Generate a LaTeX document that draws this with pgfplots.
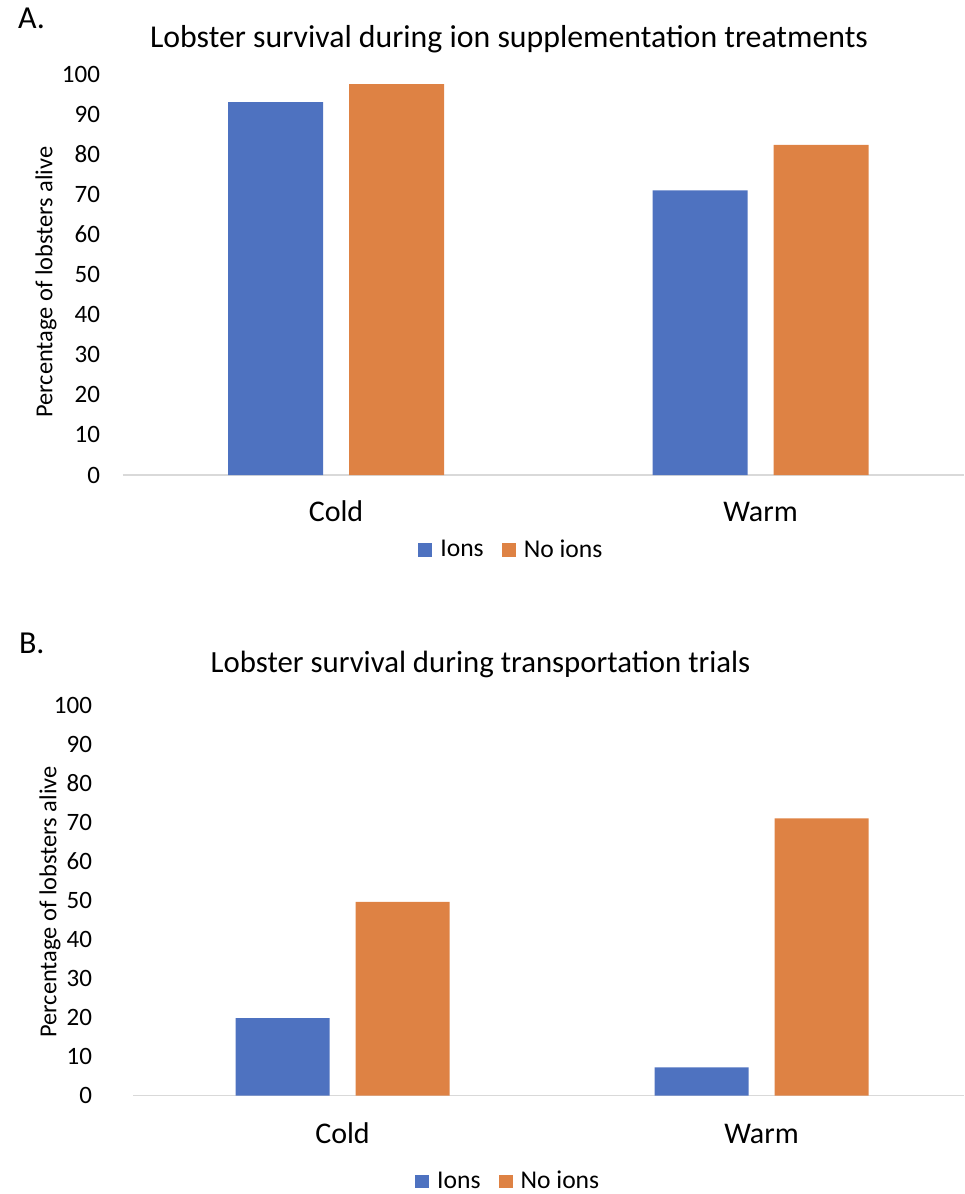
\documentclass[border=0pt]{standalone}
\usepackage{fontspec}
\setmainfont{Carlito}
\usepackage{pgfplots}
\pgfplotsset{compat=1.18}
\definecolor{ionblue}{RGB}{78,114,192}
\definecolor{ionorange}{RGB}{222,130,68}
\definecolor{axgray}{RGB}{217,217,217}
\newcommand\fs[1]{\fontsize{#1}{#1}\selectfont}
\pgfplotsset{
  lobster/.style={
    scale only axis,
    ymin=0, ymax=100,
    ytick={0,10,...,100},
    xtick={0,1},
    xticklabels={Cold,Warm},
    axis x line*=bottom,
    axis y line*=left,
    x axis line style={draw=axgray, line width=0.6pt, -},
    y axis line style={draw=none},
    major tick length=0pt,
    ybar, ybar=13pt,
    /pgf/number format/assume math mode=true,
    yticklabel style={font=\fs{12.5}, xshift=-8pt},
    xticklabel style={font=\fs{15}, anchor=base, yshift=-23pt},
    ylabel={Percentage of lobsters alive},
    ylabel style={font=\fs{12.2}, anchor=center},
    legend columns=2,
    legend style={draw=none, fill=none, font=\fs{12.8}, anchor=center,
      /tikz/every odd column/.append style={column sep=2pt},
      /tikz/every even column/.append style={column sep=7pt}},
    clip=false,
  }
}
\begin{document}
\begin{tikzpicture}
\path[use as bounding box] (0pt,0pt) rectangle (482pt,-597pt);
% Panel A
\node[anchor=base west, font=\fs{16}] at (5.5pt,-14pt) {A.};
\node[anchor=base, font=\fs{15.9}] at (254.5pt,-23.5pt) {Lobster survival during ion supplementation treatments};
\begin{axis}[lobster,
  at={(61.5pt,-237.5pt)}, anchor=south west,
  width=420.5pt, height=200.5pt,
  xmin=-0.5018, xmax=1.4794,
  bar width=47.5pt,
  ylabel style={at={(axis description cs:-0.0916,0.481)}},
  legend style={at={(axis description cs:0.463,-0.187)}},
  legend image code/.code={\fill[#1, draw=none] (0pt,-3.4pt) rectangle (7pt,3.4pt);},
]
\addplot[fill=ionblue, draw=none] coordinates {(0,93.0) (1,71.0)};
\addplot[fill=ionorange, draw=none] coordinates {(0,97.5) (1,82.3)};
\legend{Ions,No ions}
\end{axis}
% Panel B
\node[anchor=base west, font=\fs{16}] at (6pt,-326.5pt) {B.};
\node[anchor=base, font=\fs{15.4}] at (240.25pt,-336pt) {Lobster survival during transportation trials};
\begin{axis}[lobster,
  at={(66.5pt,-547.75pt)}, anchor=south west,
  width=415.5pt, height=195.25pt,
  xmin=-0.5, xmax=1.4833,
  bar width=47pt,
  yticklabel style={xshift=-9pt},
  xticklabel style={yshift=-0.75pt},
  ylabel style={at={(axis description cs:-0.0999,0.4955)}},
  legend style={at={(axis description cs:0.4527,-0.22)}},
  legend image code/.code={\fill[#1, draw=none] (0pt,-3.4pt) rectangle (7pt,3.4pt);},
]
\addplot[fill=ionblue, draw=none] coordinates {(0,19.8) (1,7.2)};
\addplot[fill=ionorange, draw=none] coordinates {(0,49.6) (1,71.0)};
\legend{Ions,No ions}
\end{axis}
\end{tikzpicture}
\end{document}
